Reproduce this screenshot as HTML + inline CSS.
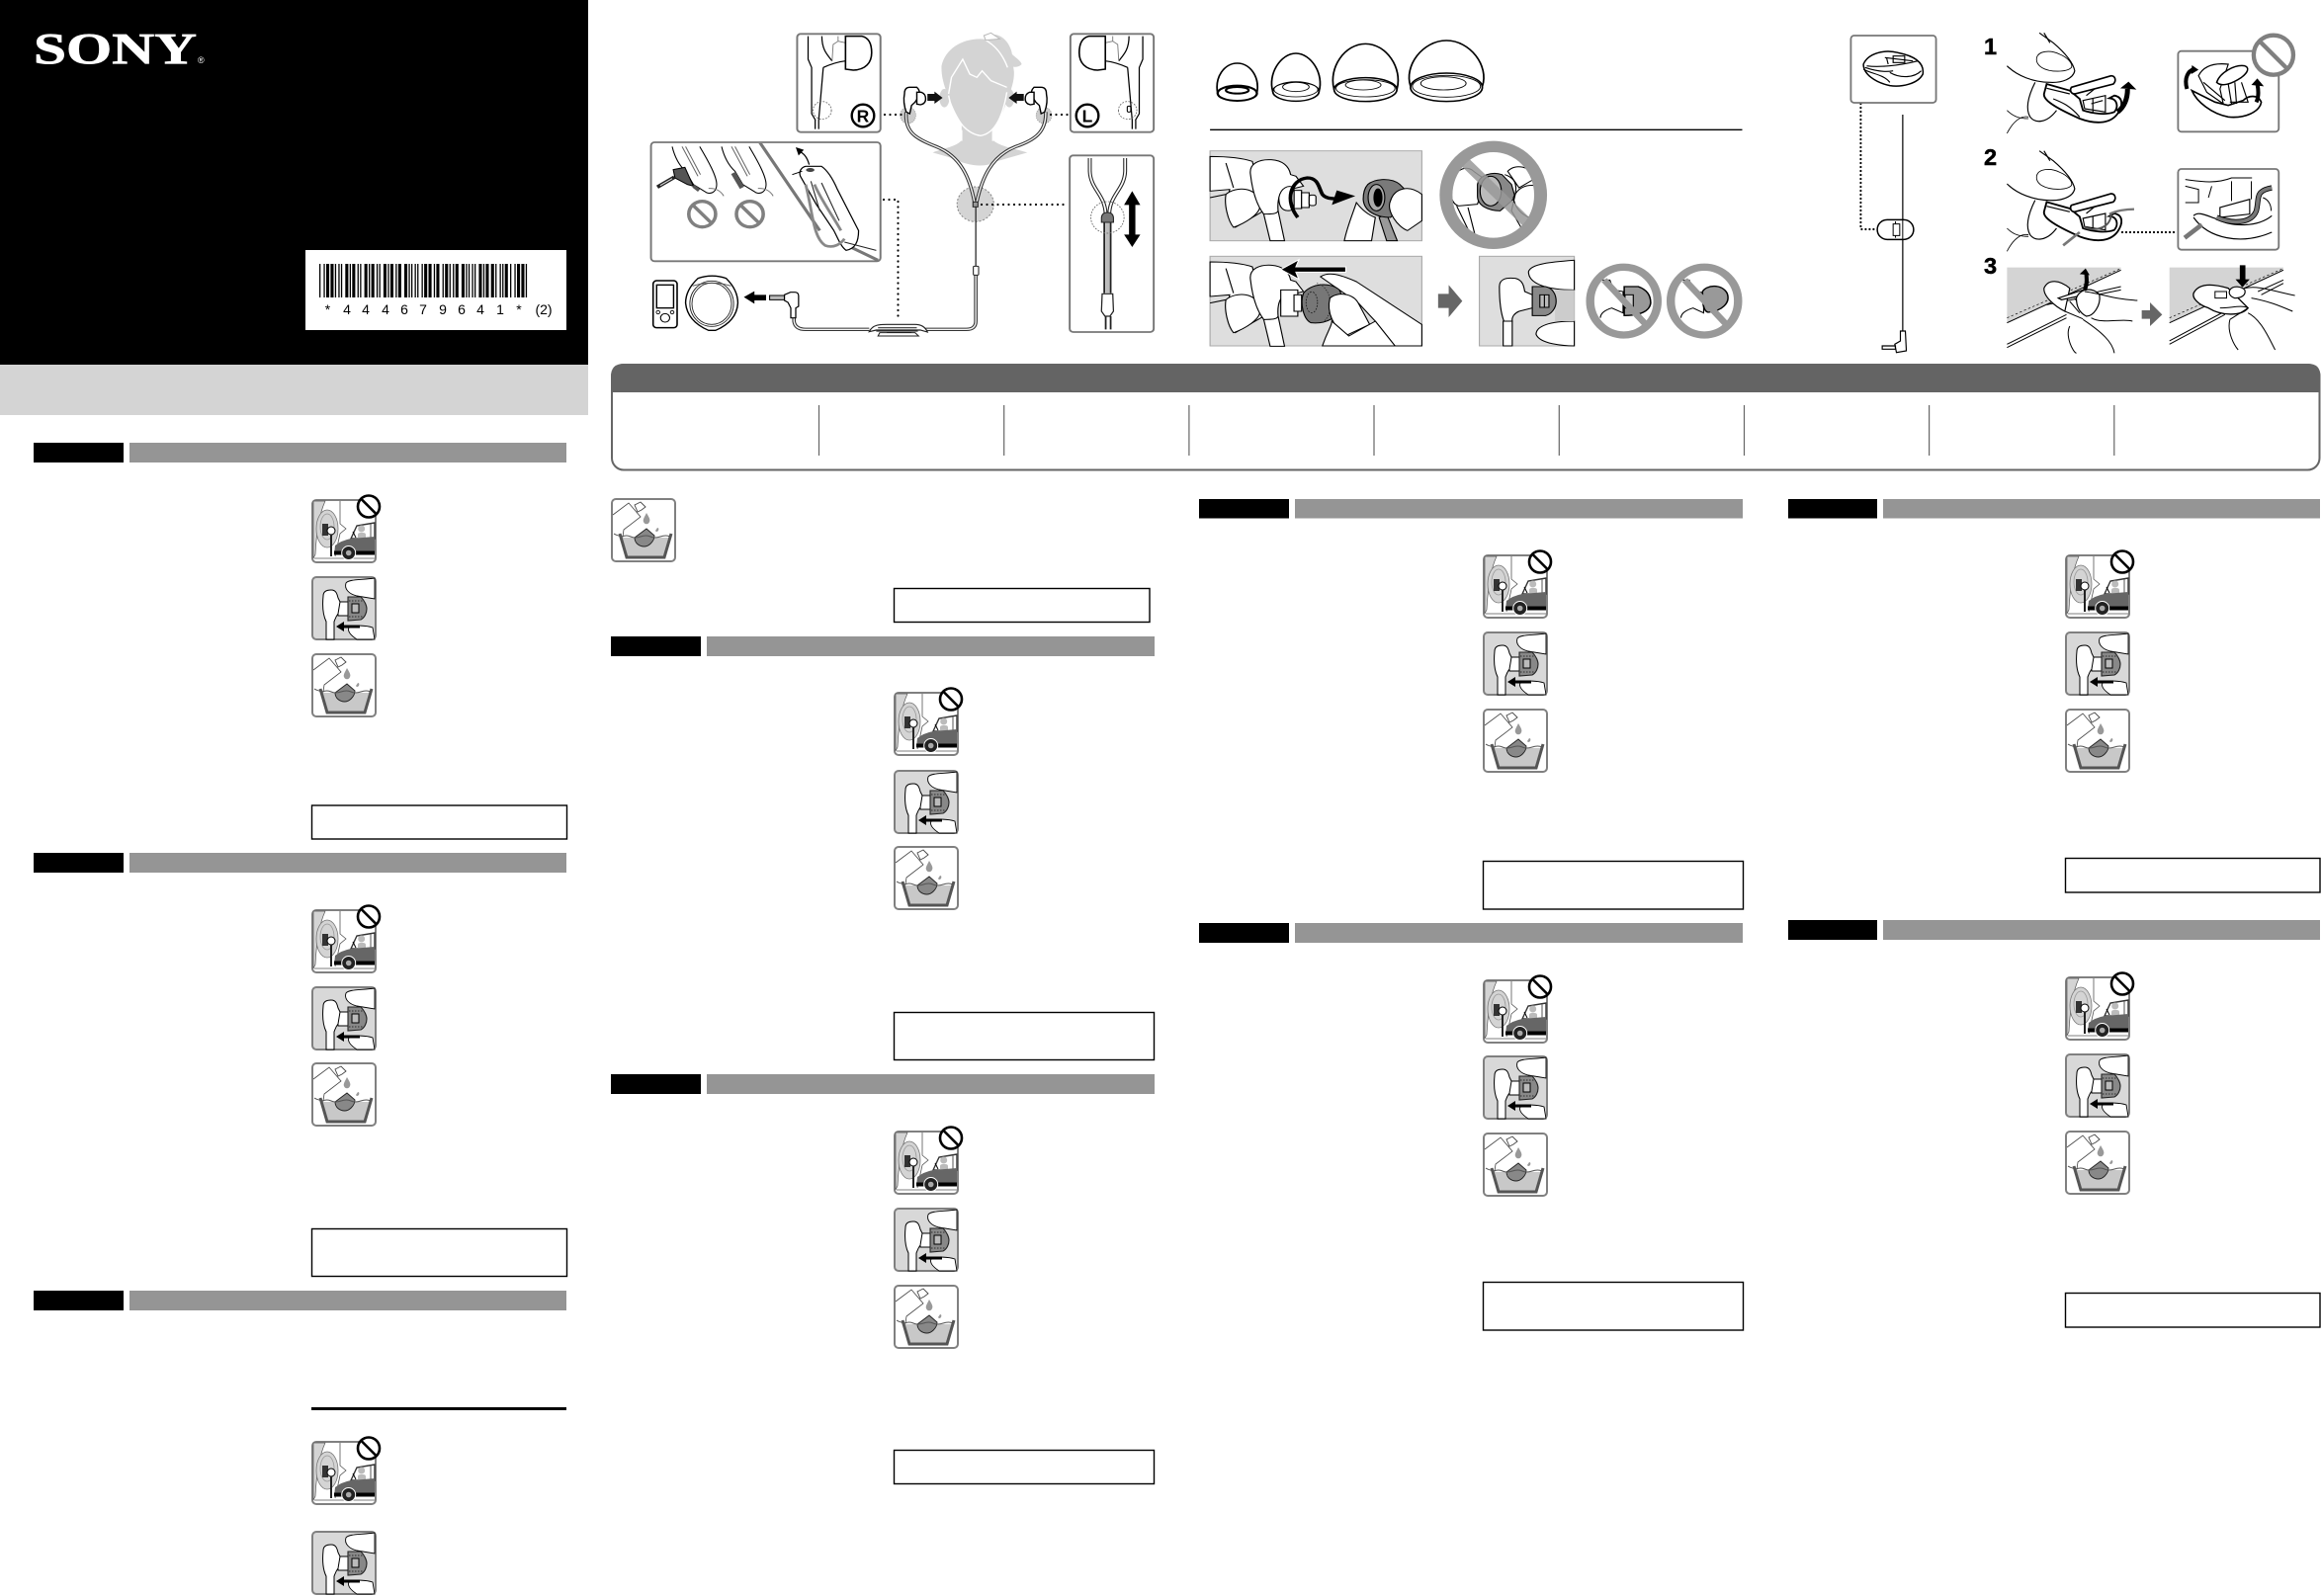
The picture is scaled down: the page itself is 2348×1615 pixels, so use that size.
<!DOCTYPE html>
<html><head><meta charset="utf-8"><title>SONY</title>
<style>html,body{margin:0;padding:0;background:#fff}svg{display:block}</style></head>
<body>
<svg xmlns="http://www.w3.org/2000/svg" width="2348" height="1615" viewBox="0 0 2348 1615">
<defs>
<g id="c0" fill="#000"><rect x="0" width="1.3" height="34"/><rect x="4.4" width="1.3" height="34"/><rect x="7" width="3.1" height="34"/><rect x="11.4" width="3.1" height="34"/><rect x="15.8" width="1.3" height="34"/></g>
<g id="c4" fill="#000"><rect x="0" width="1.3" height="34"/><rect x="2.6" width="1.3" height="34"/><rect x="7" width="3.1" height="34"/><rect x="11.4" width="1.3" height="34"/><rect x="14" width="3.1" height="34"/></g>
<g id="c6" fill="#000"><rect x="0" width="1.3" height="34"/><rect x="2.6" width="3.1" height="34"/><rect x="8.8" width="3.1" height="34"/><rect x="13.2" width="1.3" height="34"/><rect x="15.8" width="1.3" height="34"/></g>
<g id="c7" fill="#000"><rect x="0" width="1.3" height="34"/><rect x="2.6" width="1.3" height="34"/><rect x="7" width="1.3" height="34"/><rect x="9.6" width="3.1" height="34"/><rect x="14" width="3.1" height="34"/></g>
<g id="c9" fill="#000"><rect x="0" width="1.3" height="34"/><rect x="2.6" width="3.1" height="34"/><rect x="8.8" width="1.3" height="34"/><rect x="11.4" width="3.1" height="34"/><rect x="15.8" width="1.3" height="34"/></g>
<g id="c1" fill="#000"><rect x="0" width="3.1" height="34"/><rect x="4.4" width="1.3" height="34"/><rect x="8.8" width="1.3" height="34"/><rect x="11.4" width="1.3" height="34"/><rect x="14" width="3.1" height="34"/></g>

<g id="car">
<rect x="1" y="1" width="64" height="63" rx="4" fill="#fff" stroke="#808080" stroke-width="2"/>
<path d="M2,2 H14 C8,15 5,35 4,56 L2,60 Z" fill="#d4d4d4" stroke="#555" stroke-width=".7"/>
<ellipse cx="16" cy="30" rx="11" ry="19" fill="#d4d4d4" stroke="#777" stroke-width=".8"/>
<ellipse cx="16" cy="28" rx="7" ry="13" fill="none" stroke="#999" stroke-width=".8"/>
<rect x="11" y="25" width="6" height="12" fill="#333"/>
<circle cx="20" cy="32" r="4" fill="#fff" stroke="#000" stroke-width="1"/>
<path d="M20,36 V58" stroke="#222" stroke-width="2" fill="none"/>
<path d="M29,2 V25 L35,30 L29,35 L24,58 M3,60 H64" stroke="#555" stroke-width=".8" fill="none"/>
<path d="M40,40 L46,27 L64,24 V40 Z" fill="#fff" stroke="#333" stroke-width="1.4"/>
<path d="M60,25 V39" stroke="#555" stroke-width="1"/>
<circle cx="50.7" cy="30" r="3.5" fill="#bbb"/><path d="M47,41 V36 Q47,34 50,34 H52 Q55,34 55,36 V41Z" fill="#bbb"/>
<path d="M42,33 L45,39" stroke="#000" stroke-width="1"/>
<path d="M23,56 L24,47 Q30,42 40,40 L64,38 V56 Z" fill="#666"/>
<rect x="23" y="52.5" width="41" height="4" fill="#000"/>
<circle cx="37.7" cy="54.5" r="7" fill="#222" stroke="#fff" stroke-width="1"/><circle cx="37.7" cy="54.5" r="2.8" fill="#aaa"/>
<circle cx="58" cy="7.5" r="11" fill="#fff" stroke="#000" stroke-width="2.6"/>
<path d="M50.5,0 L65.5,15" stroke="#000" stroke-width="2.6"/>
</g>

<g id="tip">
<rect x="1" y="1" width="64" height="63" rx="4" fill="#d8d8d8" stroke="#808080" stroke-width="2"/>
<path d="M64,2 C50,4 38,3 35,7 C33,13 38,18 46,20 L64,23 Z" fill="#fff" stroke="#000" stroke-width=".9"/>
<path d="M27,26 H38 V40 L27,40 Z" fill="#fff" stroke="#000" stroke-width=".9"/>
<path d="M12,20 C12,15 16,14 20,14 C25,14 26,18 27,22 L29,26 L27,38 C24,42 24,44 23,46 L23,64 H15 V46 C12,40 11,30 12,20Z" fill="#fff" stroke="#000" stroke-width="1"/>
<path d="M37,21 H50 C54,25 56,30 56,33 C56,37 54,42 50,44 L37,45Z" fill="#888" stroke="#222" stroke-width="1.1"/>
<rect x="41" y="28" width="7" height="9" fill="#bbb" stroke="#000" stroke-width="1"/>
<path d="M38,25 H53 M38,41 H53" stroke="#111" stroke-width=".7" stroke-dasharray="1.5 1.5"/>
<path d="M38,52 C44,49 56,50 62,52 L64,64 H46 C40,60 36,56 38,52Z" fill="#fff" stroke="#000" stroke-width=".9"/>
<path d="M25,51 L33,46 V49.5 H49 V52.5 H33 V56 Z" fill="#000"/>
</g>

<g id="wash">
<rect x="1" y="1" width="64" height="63" rx="4" fill="#fff" stroke="#808080" stroke-width="2"/>
<path d="M2,17 L18,5 L30,19 L13,32 L12,39 Q6,38 3,36" fill="#fff" stroke="#444" stroke-width=".8"/>
<path d="M24,7 L30,4 L35,9 L31,12 L27,14Z" fill="#fff" stroke="#444" stroke-width=".9"/>
<path d="M36,15 C39,20 40,22 39,24 C38,27 34,27 33,24 C32,22 34,19 36,15Z" fill="#999"/>
<path d="M47,30 Q49,30 48,33 Q46,35 45,33Z" fill="#999"/>
<path d="M10.5,38 L16,60 H54 L60,38 L58,40 H12Z" fill="#c8c8c8"/>
<path d="M9,36 L16,60 H54 L61,36" fill="none" stroke="#555" stroke-width="3"/>
<path d="M24,40 L36,31 L44,38 C44,44 38,49 34,49 C28,49 24,45 24,40Z" fill="#888" stroke="#222" stroke-width=".9"/>
<path d="M11,39 Q16,37 20,39 T30,39 T40,39 T50,39 T60,39" fill="none" stroke="#555" stroke-width="1"/>
</g>

<g id="dome3h" fill="#fff" stroke="#000" stroke-width="3">
<path d="M63,475 C110,475 150,480 175,490 L205,640 L130,690 L105,625 L115,575 L63,580 Z"/>
<path d="M63,600 L105,590 C130,565 190,565 195,620 C200,650 150,680 125,690 C110,670 100,620 105,590Z"/>
<path d="M105,495 L125,570" fill="none"/>
<path d="M205,650 L222,731 H260 L243,640Z"/>
<path d="M170,530 C165,495 195,483 225,485 C255,487 272,505 276,530 L290,535 L310,565 L275,575 C250,570 240,600 243,640 C240,650 225,650 205,650 C185,620 175,580 170,530Z"/>
</g>
<clipPath id="ca"><ellipse cx="812" cy="592" rx="125" ry="146"/></clipPath>
<clipPath id="cb"><ellipse cx="1157" cy="914" rx="89" ry="103"/></clipPath>
<clipPath id="cc"><ellipse cx="1370" cy="914" rx="89" ry="103"/></clipPath>
<clipPath id="m1"><rect x="55" y="435" width="645" height="356" rx="8"/></clipPath>
<g id="fing" fill="none" stroke="#000" stroke-width="3">
<path d="M112,445 C120,480 135,505 150,520 L172,560 L210,585 C225,590 238,580 238,560 C238,535 215,490 190,445" fill="#fff"/>
<path d="M140,445 L185,535 M150,445 L192,530" stroke="#666"/>
<path d="M215,572 C235,570 250,580 258,595" stroke="#777"/>
</g>
</defs>

<!-- left panel -->
<rect x="0" y="0" width="595" height="369" fill="#000"/>
<rect x="0" y="369" width="595" height="51" fill="#d4d4d4"/>
<text x="34" y="64" font-family="Liberation Serif, serif" font-weight="bold" font-size="44" fill="#fff" stroke="#fff" stroke-width=".7" textLength="165" lengthAdjust="spacingAndGlyphs">SONY</text>
<text x="200" y="64" font-family="Liberation Sans, sans-serif" font-size="9" fill="#fff">®</text>
<rect x="309" y="253" width="264" height="81" fill="#fff"/>
<g transform="translate(0,267)">
<use href="#c0" x="323"/><use href="#c4" x="342.3"/><use href="#c4" x="361.6"/><use href="#c4" x="380.9"/><use href="#c6" x="400.2"/><use href="#c7" x="419.5"/><use href="#c9" x="438.8"/><use href="#c6" x="458.1"/><use href="#c4" x="477.4"/><use href="#c1" x="496.7"/><use href="#c0" x="516"/>
</g>
<g font-family="Liberation Sans, sans-serif" font-size="14" fill="#000" text-anchor="middle">
<text x="331.5" y="318">*</text><text x="351" y="318">4</text><text x="370" y="318">4</text><text x="390" y="318">4</text><text x="409" y="318">6</text><text x="428" y="318">7</text><text x="448" y="318">9</text><text x="467" y="318">6</text><text x="486" y="318">4</text><text x="506" y="318">1</text><text x="525" y="318">*</text><text x="550" y="318">(2)</text>
</g>

<!-- section headers -->
<g fill="#000">
<rect x="34" y="448" width="91" height="20"/><rect x="34" y="863" width="91" height="20"/><rect x="34" y="1306" width="91" height="20"/>
<rect x="618" y="644" width="91" height="20"/><rect x="618" y="1087" width="91" height="20"/>
<rect x="1213" y="505" width="91" height="19.5"/><rect x="1213" y="934" width="91" height="20"/>
<rect x="1809" y="505" width="90" height="19.5"/><rect x="1809" y="931" width="90" height="20"/>
</g>
<g fill="#959595">
<rect x="131" y="448" width="442" height="20"/><rect x="131" y="863" width="442" height="20"/><rect x="131" y="1306" width="442" height="20"/>
<rect x="715" y="644" width="453" height="20"/><rect x="715" y="1087" width="453" height="20"/>
<rect x="1310" y="505" width="453" height="19.5"/><rect x="1310" y="934" width="453" height="20"/>
<rect x="1905" y="505" width="442" height="19.5"/><rect x="1905" y="931" width="442" height="20"/>
</g>

<!-- bordered boxes -->
<g fill="#fff" stroke="#000" stroke-width="1.4">
<rect x="315.5" y="815" width="258" height="34"/>
<rect x="315.5" y="1243.5" width="258" height="48"/>
<rect x="904.5" y="595.5" width="258.5" height="34"/>
<rect x="904.5" y="1024.5" width="263" height="48"/>
<rect x="904.5" y="1467.5" width="263" height="34"/>
<rect x="1500.5" y="871.5" width="263" height="48.5"/>
<rect x="2089.5" y="868.5" width="257.5" height="34.5"/>
<rect x="1500.5" y="1297.5" width="263" height="48.5"/>
<rect x="2089.5" y="1308.5" width="257.5" height="34.5"/>
</g>
<rect x="315" y="1424" width="258" height="3" fill="#000"/>

<!-- icons -->
<use href="#car" x="315" y="505"/><use href="#tip" x="315" y="583"/><use href="#wash" x="315" y="661"/>
<use href="#car" x="315" y="920"/><use href="#tip" x="315" y="998"/><use href="#wash" x="315" y="1075"/>
<use href="#car" x="315" y="1458"/><use href="#tip" x="315" y="1549"/>
<use href="#wash" x="618" y="504"/>
<use href="#car" x="904" y="700"/><use href="#tip" x="904" y="779"/><use href="#wash" x="904" y="856"/>
<use href="#car" x="904" y="1144"/><use href="#tip" x="904" y="1222"/><use href="#wash" x="904" y="1300"/>
<use href="#car" x="1500" y="561"/><use href="#tip" x="1500" y="639"/><use href="#wash" x="1500" y="717"/>
<use href="#car" x="1500" y="991"/><use href="#tip" x="1500" y="1068"/><use href="#wash" x="1500" y="1146"/>
<use href="#car" x="2089" y="561"/><use href="#tip" x="2089" y="639"/><use href="#wash" x="2089" y="717"/>
<use href="#car" x="2089" y="988"/><use href="#tip" x="2089" y="1066"/><use href="#wash" x="2089" y="1144"/>

<!-- table -->
<rect x="619" y="369" width="1727.5" height="106.5" rx="12" fill="#fff" stroke="#666" stroke-width="2"/>
<path d="M618,397 V381 Q618,368 631,368 H2335 Q2347.5,368 2347.5,381 V397 Z" fill="#646464"/>
<g stroke="#666" stroke-width="1.2">
<path d="M828.5,410 V461 M1015.7,410 V461 M1202.9,410 V461 M1390,410 V461 M1577.3,410 V461 M1764.5,410 V461 M1951.6,410 V461 M2138.8,410 V461"/>
</g>

<!-- earphone diagram -->
<g transform="translate(640,0) scale(.35714,.33333)">
<g fill="#d4d4d4">
<path d="M1000,110 C1040,90 1070,130 1075,165 C1085,175 1100,185 1102,195 C1090,208 1070,205 1060,190 Z"/>
<path d="M875,200 C885,150 930,118 985,118 C1040,118 1075,160 1080,215 C1082,240 1075,265 1062,300 C1045,360 1020,405 985,412 C950,410 925,370 905,320 C895,290 873,250 875,200Z"/>
<ellipse cx="883" cy="298" rx="14" ry="28"/><ellipse cx="1067" cy="298" rx="14" ry="28"/>
<path d="M932,380 V425 C920,445 880,450 850,463 L905,480 C950,505 1000,510 1030,490 L1118,463 C1080,450 1040,445 1020,425 V380 Z"/>
</g>
<g fill="none" stroke="#fff" stroke-width="4">
<path d="M895,290 C905,350 940,405 985,412 C1030,405 1050,345 1060,280"/>
<path d="M932,395 V428 M1020,395 V428"/>
<path d="M895,285 L903,235 L935,180 L955,225 L975,235 L990,215 L1015,245 L1060,265"/>
<path d="M1000,122 C1030,140 1050,170 1062,205"/>
</g>
<path d="M995,108 L1015,100 L1040,118 L1000,122 Z" fill="#fff" stroke="#bbb" stroke-width="3"/>
<ellipse cx="780" cy="350" rx="22" ry="25" fill="#ccc" stroke="#999" stroke-width="2" stroke-dasharray="4 3"/>
<ellipse cx="1165" cy="350" rx="22" ry="25" fill="#ccc" stroke="#999" stroke-width="2" stroke-dasharray="4 3"/>
<ellipse cx="971" cy="620" rx="52" ry="53" fill="#d4d4d4" stroke="#888" stroke-width="3" stroke-dasharray="6 5"/>
<g fill="none" stroke="#333" stroke-width="10">
<path d="M775,340 C770,400 800,420 860,445 C930,475 955,540 968,612"/>
<path d="M1170,340 C1172,400 1140,425 1085,445 C1015,475 990,540 975,612"/>
<path d="M972,835 V975 Q972,1000 945,1000 H830"/>
<path d="M670,1000 H490 Q460,1000 457,975 V965"/>
</g>
<g fill="none" stroke="#f2f2f2" stroke-width="4">
<path d="M775,340 C770,400 800,420 860,445 C930,475 955,540 968,612"/>
<path d="M1170,340 C1172,400 1140,425 1085,445 C1015,475 990,540 975,612"/>
<path d="M972,835 V975 Q972,1000 945,1000 H830"/>
<path d="M670,1000 H490 Q460,1000 457,975 V965"/>
</g>
<path d="M972,628 V808" stroke="#222" stroke-width="3.5"/>
<rect x="964" y="613" width="14" height="15" fill="#999" stroke="#222" stroke-width="3"/>
<rect x="965" y="808" width="15" height="27" rx="3" fill="#fff" stroke="#222" stroke-width="3"/>
<g fill="#fff" stroke="#000" stroke-width="4">
<path d="M770,285 Q770,265 785,265 L805,265 Q815,275 812,290 L800,310 L790,320 L785,345 L775,340 Q765,310 770,285Z"/>
<path d="M805,280 H818 Q830,285 830,300 Q830,315 815,318 L805,316Z"/>
<path d="M1172,285 Q1172,265 1157,265 L1137,265 Q1127,275 1130,290 L1142,310 L1152,320 L1157,345 L1167,340 Q1177,310 1172,285Z"/>
<path d="M1137,280 H1124 Q1112,285 1112,300 Q1112,315 1127,318 L1137,316Z"/>
</g>
<path d="M835,285 H855 V278 L878,297 L855,315 V306 H835Z" fill="#111"/>
<path d="M1108,285 H1088 V278 L1065,297 L1088,315 V306 H1108Z" fill="#111"/>
<rect x="466" y="103" width="236" height="298" rx="10" fill="#fff" stroke="#777" stroke-width="5.5"/>
<g fill="none" stroke="#000" stroke-width="3.5">
<path d="M497,110 V180 L507,205 V345 L518,365 M540,205 L527,365 M517,365 V392 M527,365 V392 M540,205 C560,195 580,188 603,185"/>
<path d="M536,110 C536,150 550,165 565,185"/>
<path d="M565,185 L568,135 L582,125 V110 M582,125 L603,130" stroke="#777" stroke-width="2.5"/>
<path d="M603,110 H650 C670,115 677,135 677,160 C677,190 660,212 625,213 L603,210 Z" fill="#fff" stroke-width="4.5"/>
<ellipse cx="537" cy="335" rx="26" ry="27" stroke="#666" stroke-width="2.5" stroke-dasharray="5 4"/>
</g>
<rect x="1240" y="103" width="236" height="298" rx="10" fill="#fff" stroke="#777" stroke-width="5.5"/>
<g transform="translate(1942,0) scale(-1,1)" fill="none" stroke="#000" stroke-width="3.5">
<path d="M497,110 V180 L507,205 V345 L518,365 M540,205 L527,365 M517,365 V392 M527,365 V392 M540,205 C560,195 580,188 603,185"/>
<path d="M536,110 C536,150 550,165 565,185"/>
<path d="M565,185 L568,135 L582,125 V110 M582,125 L603,130" stroke="#777" stroke-width="2.5"/>
<path d="M603,110 H650 C670,115 677,135 677,160 C677,190 660,212 625,213 L603,210 Z" fill="#fff" stroke-width="4.5"/>
<ellipse cx="540" cy="335" rx="26" ry="27" stroke="#666" stroke-width="2.5" stroke-dasharray="5 4"/>
<rect x="531" y="322" width="10" height="18" rx="4" fill="#fff" stroke-width="3"/>
</g>
<rect x="1238" y="472" width="238" height="536" rx="10" fill="#fff" stroke="#777" stroke-width="5.5"/>
<g fill="none" stroke="#222" stroke-width="11">
<path d="M1295,480 V520 C1297,575 1338,590 1340,650"/><path d="M1395,480 V520 C1393,575 1352,590 1350,650"/>
<path d="M1336,675 V890 M1354,675 V890 M1340,960 V1000 M1354,960 V1000" stroke-width="5"/>
</g>
<g fill="none" stroke="#fff" stroke-width="5">
<path d="M1295,480 V520 C1297,575 1338,590 1340,650"/><path d="M1395,480 V520 C1393,575 1352,590 1350,650"/>
</g>
<path d="M1345,675 V890" stroke="#bbb" stroke-width="12"/>
<ellipse cx="1345" cy="660" rx="47" ry="48" fill="none" stroke="#666" stroke-width="2.5" stroke-dasharray="5 4"/>
<path d="M1328,675 V660 Q1330,645 1345,645 Q1360,645 1362,660 V675Z" fill="#777" stroke="#222" stroke-width="3"/>
<path d="M1330,892 H1360 L1362,945 L1352,960 H1338 L1328,945Z" fill="#fff" stroke="#222" stroke-width="3.5"/>
<path d="M1415,580 L1438,622 H1424 V712 H1438 L1415,750 L1392,712 H1406 V622 H1392Z" fill="#000"/>
<rect x="52" y="432" width="650" height="361" rx="10" fill="#fff" stroke="#777" stroke-width="5.5"/>
<g clip-path="url(#m1)">
<path d="M360,432 L530,700 M598,740 L695,790" stroke="#777" stroke-width="9" fill="none"/>
<use href="#fing"/>
<use href="#fing" x="140"/>
<path d="M115,515 L148,508 L172,565 L155,560 L120,540Z" fill="#555" stroke="#000" stroke-width="3"/>
<path d="M70,568 L118,538" stroke="#222" stroke-width="11"/><path d="M78,563 L112,542" stroke="#ddd" stroke-width="3"/>
<path d="M172,565 L188,578" stroke="#555" stroke-width="10"/>
<path d="M285,525 L310,570" stroke="#555" stroke-width="14"/>
<path d="M490,505 H535 C555,520 570,550 580,575 L640,700 C640,735 630,755 605,760 C590,750 580,720 570,700 L520,620 L475,535 C470,520 478,508 490,505Z" fill="#fff" stroke="#000" stroke-width="3.5"/>
<ellipse cx="503" cy="516" rx="12" ry="6" fill="#444"/>
<path d="M490,560 C510,640 510,720 545,745 C570,755 590,740 600,725" fill="none" stroke="#888" stroke-width="8"/>
<path d="M515,560 C535,610 570,660 590,700" fill="none" stroke="#888" stroke-width="8"/>
<path d="M505,550 L530,640 M535,555 L585,670 M600,735 L690,760" fill="none" stroke="#222" stroke-width="3"/>
<path d="M500,500 C495,480 485,465 472,460" fill="none" stroke="#000" stroke-width="3.5"/>
<path d="M462,447 L485,455 L470,472Z" fill="#000"/>
<path d="M480,520 L452,530" stroke="#000" stroke-width="3"/>
</g>
<ellipse cx="197" cy="650" rx="38" ry="39" fill="none" stroke="#808080" stroke-width="10"/>
<ellipse cx="332" cy="650" rx="38" ry="39" fill="none" stroke="#808080" stroke-width="10"/>
<path d="M170,622 L224,678 M305,622 L359,678" stroke="#808080" stroke-width="10"/>
<rect x="58" y="852" width="68" height="143" rx="10" fill="#fff" stroke="#000" stroke-width="4.5"/>
<rect x="68" y="865" width="48" height="70" fill="#fff" stroke="#000" stroke-width="4"/>
<ellipse cx="92" cy="965" rx="13" ry="13" fill="#fff" stroke="#000" stroke-width="3"/>
<ellipse cx="72" cy="948" rx="5" ry="5" fill="#fff" stroke="#000" stroke-width="2.5"/><ellipse cx="112" cy="948" rx="5" ry="5" fill="#fff" stroke="#000" stroke-width="2.5"/>
<path d="M185,845 Q225,830 265,845 Q298,880 298,920 Q295,975 235,1003 H215 Q155,975 150,920 Q150,880 185,845Z" fill="#fff" stroke="#000" stroke-width="4"/>
<ellipse cx="224" cy="922" rx="62" ry="69" fill="none" stroke="#222" stroke-width="2.5"/>
<ellipse cx="224" cy="922" rx="56" ry="63" fill="none" stroke="#222" stroke-width="2.5"/>
<path d="M170,868 Q225,850 278,868" fill="none" stroke="#444" stroke-width="2.5"/>
<path d="M315,902 L345,884 V895 H378 V912 H345 V922 Z" fill="#000"/>
<path d="M388,897 H430 V910 H388Z" fill="#bbb" stroke="#000" stroke-width="3"/>
<path d="M430,895 L447,887 H460 Q470,888 470,898 V930 L462,935 V965 H448 V935 L440,918 L430,912Z" fill="#fff" stroke="#000" stroke-width="3.5"/>
<path d="M670,1007 C680,985 700,985 720,985 H800 C820,985 830,995 835,1008 L815,1002 H690Z" fill="#fff" stroke="#222" stroke-width="3.5"/>
<path d="M695,995 H805 M690,1005 H808" stroke="#333" stroke-width="3.5"/>
<path d="M720,1011 H790" stroke="#000" stroke-width="6"/>
<path d="M695,1020 H810 L800,1010 H700Z" fill="#fff" stroke="#222" stroke-width="3"/>
</g>
<circle cx="873" cy="117" r="11.3" fill="#fff" stroke="#000" stroke-width="2.4"/>
<text x="873" y="123.5" font-family="Liberation Sans, sans-serif" font-weight="bold" font-size="17.5" text-anchor="middle">R</text>
<circle cx="1100" cy="117" r="11.3" fill="#fff" stroke="#000" stroke-width="2.4"/>
<text x="1100" y="123.5" font-family="Liberation Sans, sans-serif" font-weight="bold" font-size="17.5" text-anchor="middle">L</text>
<g fill="none" stroke="#000" stroke-width="2.2" stroke-linecap="round" stroke-dasharray="0 5.5">
<path d="M895,116 H912"/><path d="M1063,116 H1080"/>
<path d="M993,207 H1078"/>
<path d="M894,202 H908.5 V325"/>
<path d="M1882.4,105 V232 H1899" stroke-dasharray="0 4"/>
<path d="M2147,235 H2202" stroke-dasharray="0 4"/>
</g>

<!-- eartips and fit -->
<g transform="translate(1200,0) scale(.38265,.33333)">
<g fill="#fff" stroke="#000" stroke-width="4.5">
<path d="M83,283 C75,235 100,192 135,192 C170,192 195,235 187,283"/>
<ellipse cx="135" cy="283" rx="52" ry="23" stroke-width="6"/><ellipse cx="135" cy="274" rx="30" ry="10" stroke-width="6"/>
<path d="M229,278 C215,225 250,162 290,162 C330,162 365,225 351,278"/>
<ellipse cx="290" cy="278" rx="61" ry="29"/><ellipse cx="290" cy="272" rx="58" ry="22" stroke-width="2.5"/><ellipse cx="290" cy="264" rx="35" ry="14" stroke-width="2.5"/>
<path d="M391,272 C375,205 420,133 474,133 C528,133 573,205 557,272"/>
<ellipse cx="474" cy="272" rx="83" ry="36"/><ellipse cx="474" cy="268" rx="78" ry="26" stroke-width="2.5"/><ellipse cx="468" cy="258" rx="47" ry="15" stroke-width="2.5"/>
<path d="M593,262 C575,200 625,123 688,123 C751,123 801,200 783,262"/>
<ellipse cx="688" cy="265" rx="95" ry="43"/><ellipse cx="688" cy="262" rx="90" ry="33" stroke-width="2.5"/><ellipse cx="680" cy="253" rx="60" ry="20" stroke-width="2.5"/>
</g>
<path d="M63,394 H1470" stroke="#000" stroke-width="4"/>
<rect x="63" y="458" width="560" height="273" fill="#dedede" stroke="#aaa" stroke-width="3"/>
<use href="#dome3h"/>
<g fill="#fff" stroke="#000" stroke-width="3">
<rect x="285" y="578" width="20" height="55"/><rect x="305" y="585" width="20" height="45"/><rect x="325" y="592" width="18" height="32" rx="6"/>
<path d="M245,600 C250,570 270,560 285,570 V635 C265,645 245,640 245,600Z"/>
</g>
<path d="M295,660 C260,610 275,545 320,540 C350,540 350,570 360,590 C370,605 395,605 415,600" fill="none" stroke="#000" stroke-width="10"/>
<path d="M385,622 L447,595 L398,578 Z" fill="#000"/>
<path d="M450,615 C440,650 425,690 418,731 H490 L500,660 C475,650 460,630 450,615Z" fill="#fff" stroke="#000" stroke-width="3"/>
<path d="M510,660 L530,731 H558 L530,650Z" fill="#999" stroke="#000" stroke-width="3"/>
<path d="M480,560 C500,540 545,540 565,560 L600,600 L540,660 C500,660 470,640 468,605 C468,585 472,570 480,560Z" fill="#7a7a7a" stroke="#000" stroke-width="3"/>
<ellipse cx="503" cy="600" rx="22" ry="40" fill="#aaa" stroke="#000" stroke-width="3"/>
<ellipse cx="507" cy="600" rx="12" ry="28" fill="#000"/>
<path d="M623,590 C590,560 550,570 540,610 C528,640 560,690 585,700 L623,670Z" fill="#fff" stroke="#000" stroke-width="3"/>
<ellipse cx="812" cy="592" rx="125" ry="147" fill="#fff"/>
<g clip-path="url(#ca)" fill="#fff" stroke="#000" stroke-width="3">
<path d="M700,590 C690,540 730,490 760,520 L790,545 L770,620 L720,625 C705,620 700,600 700,590Z"/>
<path d="M715,625 L755,720 M745,630 L765,720" fill="none"/>
<path d="M850,520 C870,495 910,505 925,540 L880,570 Z"/>
<path d="M770,560 C775,530 810,520 835,530 L860,560 L870,600 L830,640 C800,640 770,625 770,595Z" fill="#888"/>
<ellipse cx="805" cy="580" rx="28" ry="45" fill="#bbb"/>
<path d="M950,580 C920,550 880,560 865,600 C870,640 900,670 950,670Z"/>
<path d="M842,530 C870,540 875,560 870,590 L860,640 L890,700" fill="none"/>
<path d="M735,490 L905,680" fill="none" stroke="#999" stroke-width="30" opacity=".85"/>
</g>
<ellipse cx="812" cy="592" rx="125" ry="147" fill="none" stroke="#999" stroke-width="34"/>
<rect x="63" y="778" width="560" height="272" fill="#dedede" stroke="#aaa" stroke-width="3"/>
<use href="#dome3h" y="320"/>
<path d="M250,880 H295 V960 H250Z" fill="#fff" stroke="#000" stroke-width="3"/>
<rect x="285" y="895" width="20" height="50" fill="#fff" stroke="#000" stroke-width="3"/>
<path d="M355,840 C375,825 400,830 450,855 L623,985 V1050 H552 L500,975 L455,920 L405,880 L355,840Z" fill="#fff" stroke="#000" stroke-width="3"/>
<path d="M310,890 C330,860 380,855 405,880 L420,920 C410,960 370,985 330,980 C310,970 300,920 310,890Z" fill="#777" stroke="#000" stroke-width="3"/>
<ellipse cx="332" cy="918" rx="15" ry="32" fill="none" stroke="#222" stroke-width="2.5" stroke-dasharray="5 4"/>
<path d="M345,860 C385,870 395,950 360,980" fill="none" stroke="#222" stroke-width="2" stroke-dasharray="4 4"/>
<path d="M380,905 C400,885 440,890 455,920 L485,985 L420,1020 C390,990 370,950 380,905Z" fill="#fff" stroke="#000" stroke-width="3"/>
<path d="M360,1050 C375,1000 385,990 385,975 L430,1020 L500,975 L552,1050Z" fill="#fff" stroke="#000" stroke-width="3"/>
<path d="M250,818 L298,788 L290,810 H422 V826 H290 L298,848 Z" fill="#000" stroke="#fff" stroke-width="3"/>
<path d="M666,892 H694 V865 L730,914 L694,963 V935 H666Z" fill="#666"/>
<rect x="775" y="778" width="251" height="272" fill="#dedede" stroke="#aaa" stroke-width="3"/>
<path d="M1026,790 C970,795 910,800 905,825 C905,860 950,880 1026,880Z" fill="#fff" stroke="#000" stroke-width="3"/>
<path d="M1026,975 C960,975 925,990 925,1015 C935,1045 1000,1050 1026,1050Z" fill="#fff" stroke="#000" stroke-width="3"/>
<path d="M975,880 H1026 V975 H975Z" fill="#ccc"/>
<path d="M838,975 V1050 H862 V975Z" fill="#fff" stroke="#000" stroke-width="3"/>
<path d="M828,870 C828,845 850,842 870,845 C890,850 893,870 895,885 L915,895 V935 L880,945 C870,950 860,960 862,975 H840 C830,945 828,900 828,870Z" fill="#fff" stroke="#000" stroke-width="3"/>
<path d="M915,870 H950 C970,875 978,895 978,915 C978,935 965,955 950,958 H915Z" fill="#888" stroke="#000" stroke-width="3"/>
<path d="M935,895 H959 V933 H935Z M947,895 V933" fill="#bbb" stroke="#000" stroke-width="3"/>
<ellipse cx="1157" cy="914" rx="89" ry="103" fill="#fff"/>
<g clip-path="url(#cb)" fill="#fff" stroke="#000" stroke-width="3">
<path d="M1095,850 L1120,850 L1130,880 L1155,885 V950 L1125,935 C1110,940 1095,950 1095,965"/>
<path d="M1158,870 H1195 C1220,880 1228,900 1228,920 C1225,945 1200,958 1158,958Z" fill="#999" stroke-width="4"/>
<rect x="1160" y="895" width="22" height="40" fill="#ccc"/>
<path d="M1105,850 L1215,985" fill="none" stroke="#999" stroke-width="18"/>
</g>
<ellipse cx="1157" cy="914" rx="89" ry="103" fill="none" stroke="#999" stroke-width="22"/>
<ellipse cx="1370" cy="914" rx="89" ry="103" fill="#fff"/>
<g clip-path="url(#cc)" fill="#fff" stroke="#000" stroke-width="3">
<path d="M1308,850 L1330,850 L1340,880 L1368,890 V950 L1340,935 C1325,940 1308,950 1308,965"/>
<path d="M1365,885 C1375,865 1415,860 1430,890 C1440,920 1415,945 1380,948 C1365,945 1365,910 1365,885Z" fill="#999" stroke-width="4"/>
<path d="M1318,850 L1428,985" fill="none" stroke="#999" stroke-width="18"/>
</g>
<ellipse cx="1370" cy="914" rx="89" ry="103" fill="none" stroke="#999" stroke-width="22"/>
</g>

<!-- clip section -->
<g transform="translate(1840,0) scale(.33400,.33333)" fill="none" stroke="#000" stroke-width="3.5">
<rect x="97" y="108" width="258" height="204" rx="10" fill="#fff" stroke="#777" stroke-width="5.5"/>
<path d="M135,195 C150,160 200,150 240,160 C290,170 320,190 315,225 C300,255 250,265 215,260 C170,250 135,225 135,195Z" fill="#fff" stroke-width="4.5"/>
<path d="M145,200 C180,205 240,200 300,185 M200,175 L285,185 M205,175 L210,195 M135,210 C160,225 195,225 215,250 M215,220 C250,240 290,235 310,215 M140,205 C170,215 200,220 225,215 M225,170 H260 V190 H225Z"/>
<path d="M254,348 V1005" stroke="#333" stroke-width="4.5"/>
<rect x="177" y="667" width="110" height="60" rx="30" fill="#fff" stroke-width="4.5"/>
<path d="M254,667 V727" stroke-width="3"/>
<path d="M225,680 H245 V715 H225Z M232,672 V680 M232,715 V722" stroke-width="3"/>
<path d="M247,1005 H262 L265,1065 L235,1070 L230,1045 L247,1035Z" fill="#fff"/>
<path d="M192,1050 H232 V1060 H192Z" stroke-width="3.5"/>

<g>
<path d="M668,100 L710,130 C745,160 770,190 775,215 C770,240 735,252 700,250 C650,250 600,230 570,200" fill="#fff"/>
<path d="M682,100 L700,130"/>
<path d="M660,175 C665,155 700,150 730,165 C755,175 770,195 765,205 C750,220 700,220 675,205 C660,195 658,185 660,175Z" stroke-width="2.5"/>
<path d="M655,250 C635,290 625,330 640,355 C655,375 690,375 720,335"/>
<path d="M635,355 C615,350 590,365 570,405 M570,335 C590,355 610,360 635,360" stroke-width="2.5"/>
<path d="M682,285 C680,300 700,320 790,360 C830,375 880,380 905,345 C922,320 922,295 895,290 L880,298 C905,300 908,325 895,340 C870,350 830,345 800,335 L790,300 L760,275 L690,255Z" fill="#fff" stroke-width="5.5"/>
<path d="M690,268 L760,285 M710,300 C735,310 760,320 790,355" stroke-width="3.5"/>
<path d="M800,305 L868,290 V340 L805,330Z M830,300 V340 M810,290 L835,270 M825,315 L860,305" stroke-width="3.5"/>
<path d="M765,265 L885,230 C898,230 902,245 892,255 L775,285 C762,285 760,272 765,265Z" fill="#fff" stroke-width="5"/>
</g>
<path d="M905,340 C930,320 935,290 935,270" stroke-width="15"/>
<path d="M913,268 L938,248 L962,272 Z" fill="#000" stroke="none"/>
<rect x="1088" y="155" width="305" height="245" rx="10" fill="#fff" stroke="#777" stroke-width="5.5"/>
<path d="M1130,275 C1145,310 1190,345 1240,355 C1290,360 1335,340 1340,310 C1330,285 1300,290 1285,305 L1240,320 L1200,310 Z" fill="#fff" stroke-width="5"/>
<path d="M1150,230 C1165,200 1195,190 1240,195 L1215,270 L1225,315 L1175,280Z" fill="#fff"/>
<path d="M1205,250 C1215,220 1260,195 1290,200 C1305,205 1300,220 1280,235 C1250,255 1220,265 1205,250Z" fill="#fff" stroke-width="4.5"/>
<path d="M1240,255 L1250,315 M1260,250 L1265,315 M1280,250 L1300,310 H1245 M1165,250 L1230,305" stroke-width="3.5"/>
<path d="M1115,270 C1105,235 1120,215 1135,210" stroke-width="12"/><path d="M1130,198 L1150,212 L1128,225Z" fill="#000" stroke="none"/>
<path d="M1325,310 C1335,290 1330,265 1328,255" stroke-width="12"/><path d="M1310,258 L1328,238 L1348,262Z" fill="#000" stroke="none"/>
<circle cx="1377" cy="167" r="60" fill="#fff" stroke="#808080" stroke-width="13"/>
<path d="M1335,125 L1420,210" stroke="#808080" stroke-width="13"/>

<g transform="translate(0,358)">
<path d="M668,100 L710,130 C745,160 770,190 775,215 C770,240 735,252 700,250 C650,250 600,230 570,200" fill="#fff"/>
<path d="M682,100 L700,130"/>
<path d="M660,175 C665,155 700,150 730,165 C755,175 770,195 765,205 C750,220 700,220 675,205 C660,195 658,185 660,175Z" stroke-width="2.5"/>
<path d="M655,250 C635,290 625,330 640,355 C655,375 690,375 720,335"/>
<path d="M635,355 C615,350 590,365 570,405 M570,335 C590,355 610,360 635,360" stroke-width="2.5"/>
<path d="M682,285 C680,300 700,320 790,360 C830,375 880,380 905,345 C922,320 922,295 895,290 L880,298 C905,300 908,325 895,340 C870,350 830,345 800,335 L790,300 L760,275 L690,255Z" fill="#fff" stroke-width="5.5"/>
<path d="M690,268 L760,285" stroke-width="3.5"/>
<path d="M800,305 L868,290 V340 L805,330Z M830,300 V340 M810,290 L835,270" stroke-width="3.5"/>
<path d="M765,265 L885,230 C898,230 902,245 892,255 L775,285 C762,285 760,272 765,265Z" fill="#fff" stroke-width="5"/>
</g>
<path d="M740,745 L790,705" stroke="#777" stroke-width="8"/>
<path d="M880,650 C900,640 930,635 955,635" stroke="#777" stroke-width="7"/>
<path d="M885,650 C885,690 840,705 805,690" stroke="#555" stroke-width="6"/>
<rect x="1088" y="513" width="305" height="245" rx="10" fill="#fff" stroke="#777" stroke-width="5.5"/>
<path d="M1110,545 C1150,550 1200,560 1250,540 L1312,540 M1110,565 L1150,575 V615 H1110 M1190,565 L1180,600 M1250,550 V610 M1310,550 V605 M1345,600 C1360,605 1370,620 1370,640" stroke-width="3"/>
<path d="M1215,630 L1305,605 V650 L1215,660Z" fill="#fff"/>
<path d="M1135,655 C1150,640 1175,655 1205,665 C1250,690 1330,690 1372,655 M1135,660 C1180,725 1280,745 1372,705" stroke-width="3.5"/>
<path d="M1205,660 C1250,680 1310,680 1325,640 C1335,600 1320,580 1372,570" stroke="#000" stroke-width="16"/>
<path d="M1205,660 C1250,680 1310,680 1325,640 C1335,600 1320,580 1372,570" stroke="#777" stroke-width="11"/>
<path d="M1108,722 L1160,682" stroke="#777" stroke-width="14"/>

<path d="M570,812 H915 V820 L690,925 L570,980Z" fill="#d4d4d4" stroke="none"/>
<path d="M570,965 L915,815" stroke-width="2" stroke-dasharray="7 7"/>
<path d="M570,980 L915,820" stroke-width="3"/>
<path d="M570,1045 L750,955 M570,1055 L750,965 M760,905 L915,870 M690,925 L915,880" stroke-width="3"/>
<path d="M682,875 C695,845 730,850 760,875 L745,945 C715,930 680,900 682,875Z" fill="#fff"/>
<path d="M725,905 L800,880 L805,895 L735,910Z" fill="#fff"/>
<path d="M745,945 L800,968 M760,915 L790,950 M775,905 L800,945" stroke-width="3"/>
<path d="M780,905 C790,875 830,870 850,895 C855,930 830,960 810,960 C790,950 780,930 780,905Z" fill="#fff"/>
<path d="M805,885 C850,890 900,910 965,912 M825,965 C860,985 920,965 950,975 M760,990 C745,1020 770,1070 780,1072 M800,970 C860,1010 890,1040 895,1072" stroke-width="3"/>
<path d="M805,880 C815,860 810,840 810,830" stroke-width="12"/><path d="M790,832 L808,815 L820,835Z" fill="#000" stroke="none"/>
<path d="M978,942 H1003 V918 L1040,955 L1003,990 V968 H978Z" fill="#666" stroke="none"/>
<path d="M1062,812 H1407 V820 L1182,925 L1062,980Z" fill="#d4d4d4" stroke="none"/>
<path d="M1062,965 L1407,815" stroke-width="2" stroke-dasharray="7 7"/>
<path d="M1062,980 L1407,820" stroke-width="3"/>
<path d="M1062,1035 L1230,945 M1062,1045 L1230,955 M1330,885 L1407,850 M1340,895 L1407,860" stroke-width="3"/>
<path d="M1135,890 C1150,860 1190,860 1240,875 L1300,935 C1280,960 1220,960 1180,935 C1150,925 1130,905 1135,890Z" fill="#fff" stroke-width="4"/>
<path d="M1200,885 H1235 V905 H1200Z M1215,935 C1250,935 1280,925 1300,935" stroke-width="3"/>
<path d="M1245,880 C1255,865 1280,870 1290,880 C1295,895 1280,905 1260,905 C1245,900 1240,890 1245,880Z" fill="#fff"/>
<path d="M1290,875 C1330,865 1380,885 1442,897 M1310,905 C1370,915 1410,935 1435,945 M1300,950 C1340,970 1365,1030 1382,1062 M1245,970 C1235,1010 1260,1050 1270,1062 M1300,935 L1245,970" stroke-width="3"/>
<path d="M1275,805 H1292 V848 H1305 L1283,872 L1262,848 H1275Z" fill="#000" stroke="none"/>
</g>
<g font-family="Liberation Sans, sans-serif" font-weight="bold" font-size="23.5" fill="#000" stroke="#000" stroke-width=".5">
<text x="2007" y="55">1</text><text x="2007" y="167">2</text><text x="2007" y="277">3</text>
</g>
</svg>
</body></html>
